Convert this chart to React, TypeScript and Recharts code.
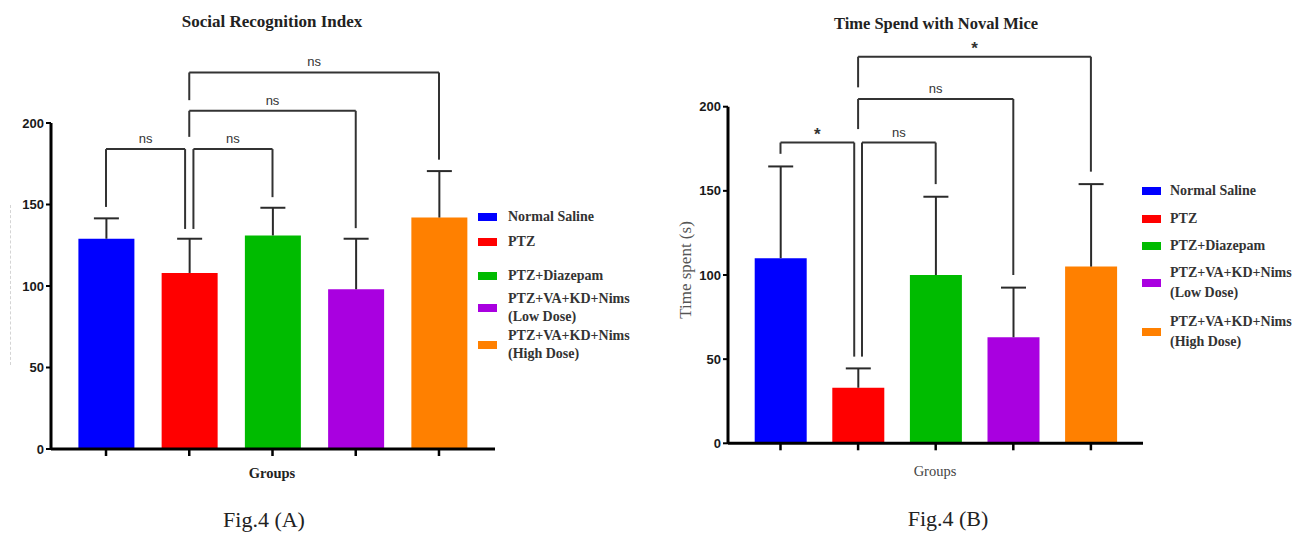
import React from 'react';
import { BarChart, Bar, Cell, XAxis, YAxis, ReferenceLine } from 'recharts';

// Treatment groups and bar colours
const groups = [
  'Normal Saline',
  'PTZ',
  'PTZ+Diazepam',
  'PTZ+VA+KD+Nims (Low Dose)',
  'PTZ+VA+KD+Nims (High Dose)',
];
const barColors = ['#0000FF', '#FF0000', '#00BB00', '#A900E0', '#FF8000'];
const yTicks = [0, 50, 100, 150, 200];

// Fig.4 (A) social recognition index, mean and SEM
const sriMean = [129, 108, 131, 98, 142];
const sriSem = [12.5, 21, 17, 31, 28.5];

// Fig.4 (B) time spent with novel mouse (s), mean and SEM
const timeMean = [110, 33, 100, 63, 105];
const timeSem = [54.5, 11.5, 46.5, 29.5, 49];

// Comparisons: group a vs group b, bar height y, leg bottoms, result
interface Bracket { a: number; b: number; y: number; aEnd: number; bEnd: number; label: string }
const sriBrackets: Bracket[] = [
  { a: 0, b: 1, y: 184, aEnd: 148.5, bEnd: 135, label: 'ns' },
  { a: 1, b: 2, y: 184, aEnd: 135, bEnd: 154.5, label: 'ns' },
  { a: 1, b: 3, y: 207.5, aEnd: 191.5, bEnd: 135.5, label: 'ns' },
  { a: 1, b: 4, y: 231, aEnd: 214, bEnd: 177.5, label: 'ns' },
];
const timeBrackets: Bracket[] = [
  { a: 0, b: 1, y: 178.7, aEnd: 172, bEnd: 51.5, label: '*' },
  { a: 1, b: 2, y: 178.7, aEnd: 51.5, bEnd: 154, label: 'ns' },
  { a: 1, b: 3, y: 204.6, aEnd: 186.7, bEnd: 100, label: 'ns' },
  { a: 1, b: 4, y: 229.7, aEnd: 211.5, bEnd: 161.4, label: '*' },
];

const SANS = 'Liberation Sans, Arial, sans-serif';
const SERIF = '"Liberation Serif", "Times New Roman", serif';
const INK = '#2a2a2a';

const buildRows = (mean: number[], sem: number[]) =>
  groups.map((group, i) => ({ group, idx: i, mean: mean[i], sem: sem[i] }));

// upward-only SEM whisker drawn on the stacked "sem" segment
const Whisker = (props: any) => {
  const { x, y, width, height } = props;
  const cx = x + width / 2;
  return (
    <g>
      <line x1={cx} x2={cx} y1={y + height} y2={y} stroke={INK} strokeWidth={2} />
      <line x1={cx - 12.5} x2={cx + 12.5} y1={y} y2={y} stroke={INK} strokeWidth={2} />
    </g>
  );
};

// PTZ is the shared reference group; nudge its leg apart for neighbouring comparisons
const legX = (idx: number, other: number) =>
  idx === 1 && Math.abs(other - idx) === 1 ? idx + 0.05 * Math.sign(other - idx) : idx;

const renderBrackets = (brackets: Bracket[]) =>
  brackets.flatMap((br, k) => {
    const xa = legX(br.a, br.b);
    const xb = legX(br.b, br.a);
    const star = br.label === '*';
    return [
      <ReferenceLine key={`h${k}`} xAxisId="n" ifOverflow="visible" stroke="#333" strokeWidth={2}
        segment={[{ x: xa, y: br.y }, { x: xb, y: br.y }]}
        label={{
          value: br.label, position: 'top', offset: star ? 3 : 6, fill: '#333',
          fontSize: star ? 17 : 13, fontWeight: star ? 'bold' : 'normal', fontFamily: SANS,
        }} />,
      <ReferenceLine key={`l${k}`} xAxisId="n" ifOverflow="visible" stroke="#333" strokeWidth={2}
        segment={[{ x: xa, y: br.y }, { x: xa, y: br.aEnd }]} />,
      <ReferenceLine key={`r${k}`} xAxisId="n" ifOverflow="visible" stroke="#333" strokeWidth={2}
        segment={[{ x: xb, y: br.y }, { x: xb, y: br.bEnd }]} />,
    ];
  });

interface PanelProps {
  mean: number[];
  sem: number[];
  brackets: Bracket[];
  width: number;
  margin: { top: number; right: number; bottom: number; left: number };
  yWidth: number;
  pad: { left: number; right: number };
  barSize: number;
}

const Panel: React.FC<PanelProps> = ({ mean, sem, brackets, width, margin, yWidth, pad, barSize }) => (
  <BarChart width={width} height={549} data={buildRows(mean, sem)} margin={margin} barSize={barSize}>
    <XAxis dataKey="group" padding={pad} height={30} tickFormatter={() => ''} tickSize={7}
      axisLine={{ stroke: '#000', strokeWidth: 3 }} tickLine={{ stroke: '#000', strokeWidth: 2.5 }} />
    <XAxis xAxisId="n" dataKey="idx" type="number" domain={[-0.5, 4.5]} allowDataOverflow padding={pad} hide />
    <YAxis domain={[0, 200]} ticks={yTicks} width={yWidth} tickSize={5} tickMargin={2}
      axisLine={{ stroke: '#000', strokeWidth: 3 }} tickLine={{ stroke: '#000', strokeWidth: 2 }}
      tick={{ fill: '#1a1a1a', fontSize: 13, fontWeight: 'bold', fontFamily: SANS }} />
    <Bar dataKey="mean" stackId="s" isAnimationActive={false}>
      {groups.map((g, i) => (
        <Cell key={g} fill={barColors[i]} />
      ))}
    </Bar>
    <Bar dataKey="sem" stackId="s" isAnimationActive={false} shape={<Whisker />} />
    {renderBrackets(brackets)}
  </BarChart>
);

const Txt: React.FC<{ x: number; y: number; size: number; bold?: boolean; color?: string; children: React.ReactNode; rotate?: boolean }> =
  ({ x, y, size, bold, color, children, rotate }) => (
    <div style={{
      position: 'absolute', left: x, top: y, whiteSpace: 'nowrap', fontFamily: SERIF, fontSize: size,
      fontWeight: bold ? 'bold' : 'normal', color: color ?? '#222', lineHeight: 1,
      transform: `translate(-50%, -50%)${rotate ? ' rotate(-90deg)' : ''}`,
    }}>{children}</div>
  );

const Legend: React.FC<{ swatchX: number; textX: number; rows: number[]; lineHeight: number }> =
  ({ swatchX, textX, rows, lineHeight }) => (
    <>
      {groups.map((g, i) => {
        const lines = g.replace(' (', '\n(').split('\n');
        const mid = rows[i] + ((lines.length - 1) * lineHeight) / 2;
        return (
          <React.Fragment key={g}>
            <div style={{ position: 'absolute', left: swatchX, top: mid - 4, width: 19, height: 8, background: barColors[i] }} />
            {lines.map((ln, j) => (
              <div key={ln} style={{
                position: 'absolute', left: textX, top: rows[i] + j * lineHeight - 8, whiteSpace: 'nowrap',
                fontFamily: SERIF, fontSize: 14, fontWeight: 'bold', color: '#333', lineHeight: '16px',
              }}>{ln}</div>
            ))}
          </React.Fragment>
        );
      })}
    </>
  );

export default function App() {
  return (
    <div style={{ position: 'absolute', left: 0, top: 0, width: 1309, height: 549, background: '#fff', overflow: 'hidden' }}>
      <div style={{ position: 'absolute', left: 0, top: 0 }}>
        <Panel mean={sriMean} sem={sriSem} brackets={sriBrackets} width={500}
          margin={{ top: 123, right: 5, bottom: 70, left: 0 }} yWidth={51}
          pad={{ left: 13.4, right: 14.4 }} barSize={56} />
      </div>
      <div style={{ position: 'absolute', left: 640, top: 0 }}>
        <Panel mean={timeMean} sem={timeSem} brackets={timeBrackets} width={510}
          margin={{ top: 106.7, right: 7, bottom: 75.7, left: 0 }} yWidth={88}
          pad={{ left: 13.7, right: 13.3 }} barSize={52} />
      </div>

      <div style={{ position: 'absolute', left: 10, top: 205, height: 160, borderLeft: '1px dashed #d4d4d4' }} />

      <Txt x={272} y={21} size={17} bold>Social Recognition Index</Txt>
      <Txt x={272} y={473} size={14.5} bold>Groups</Txt>
      <Txt x={264} y={520} size={22}>Fig.4 (A)</Txt>
      <Legend swatchX={478} textX={508} rows={[216.7, 242, 276, 299, 336]} lineHeight={18} />

      <Txt x={936} y={24} size={16.5} bold>Time Spend with Noval Mice</Txt>
      <Txt x={685} y={270} size={17} color="#555" rotate>Time spent (s)</Txt>
      <Txt x={935} y={471} size={14.5} color="#444">Groups</Txt>
      <Txt x={948} y={519} size={22}>Fig.4 (B)</Txt>
      <Legend swatchX={1142} textX={1170} rows={[191, 219, 245.7, 273.3, 321.7]} lineHeight={20} />
    </div>
  );
}
